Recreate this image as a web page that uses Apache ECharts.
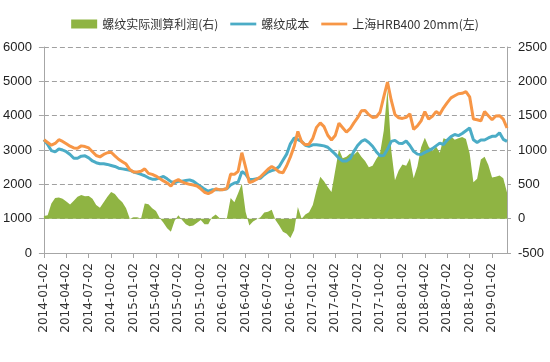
<!DOCTYPE html>
<html><head><meta charset="utf-8">
<script src="https://cdn.jsdelivr.net/npm/echarts@6/dist/echarts.min.js"></script>
<style>html,body{margin:0;padding:0;background:#fff}#c{width:550px;height:362px}</style>
</head><body><div id="c"></div>
<script>
// semi-monthly sample dates 2014-01-02 .. 2019-03-02
var categories = [];
(function(){
  for (var y = 2014; y <= 2019; y++) {
    for (var m = 1; m <= 12; m++) {
      if (y === 2019 && m > 3) break;
      var mm = (m < 10 ? '0' : '') + m;
      categories.push(y + '-' + mm + '-02');
      if (!(y === 2019 && m === 3)) categories.push(y + '-' + mm + '-17');
    }
  }
})();

var priceSH = [
3300,3220,3140,3190,3300,3250,3180,3110,3060,3050,
3120,3100,3060,2950,2840,2800,2870,2920,2935,2830,
2730,2660,2590,2430,2360,2360,2380,2450,2320,2290,
2240,2170,2100,2040,1950,2090,2140,2070,2030,2000,
1980,1950,1870,1770,1730,1780,1870,1845,1845,1880,
2300,2290,2380,2920,2500,2050,2090,2150,2220,2330,
2440,2520,2450,2360,2340,2540,2800,3100,3540,3240,
3150,3170,3340,3660,3790,3680,3430,3290,3420,3780,
3650,3520,3620,3790,3940,4140,4150,4030,3950,3960,
4100,4550,4980,4450,4030,3940,3920,3950,4050,3600,
3700,3850,4120,3900,3980,4120,4040,4230,4380,4520,
4580,4640,4650,4700,4550,3900,3880,3850,4120,4000,
3880,3990,4000,3900,3640
];

var costRebar = [
3300,3160,2980,2945,3030,3000,2950,2870,2760,2760,
2820,2830,2770,2680,2630,2600,2600,2580,2550,2520,
2470,2450,2430,2410,2360,2330,2290,2250,2190,2150,
2150,2190,2230,2160,2080,2050,2090,2090,2110,2130,
2090,2010,1940,1860,1800,1840,1845,1845,1850,1870,
1980,2040,2060,2370,2300,2140,2140,2160,2180,2280,
2360,2400,2430,2520,2700,2880,3180,3350,3300,3250,
3140,3110,3150,3150,3140,3120,3080,2980,2880,2760,
2680,2680,2750,2960,3130,3250,3300,3220,3110,2950,
2830,2840,3020,3250,3280,3200,3190,3260,3130,2960,
2880,2870,2930,2980,3040,3120,3200,3160,3290,3390,
3450,3420,3480,3560,3640,3300,3220,3290,3290,3350,
3400,3400,3500,3310,3250
];

var profitRebar = [
40,50,220,300,310,290,250,205,260,320,
345,326,330,290,200,160,240,320,390,360,
290,240,150,0,20,20,0,220,210,150,
110,10,-60,-140,-190,-30,50,-20,-80,-110,
-100,-60,-20,-80,-80,20,60,10,0,10,
300,240,370,510,100,-100,-40,-10,20,90,
100,130,-20,-100,-190,-220,-280,-170,170,0,
60,92,200,420,610,545,460,390,700,1010,
880,900,950,930,980,900,840,750,770,870,
950,1280,1880,1000,560,700,790,770,880,590,
760,1040,1180,1050,980,1050,960,1170,1150,1200,
1150,1170,1190,1160,950,530,580,860,900,780,
600,610,630,590,380
];

var leftTicks = {min: 0, max: 6000, interval: 1000};
var rightTicks = {min: -500, max: 2500, interval: 500};

var chart = echarts.init(document.getElementById('c'), null, {renderer: 'canvas'});
var fontFam = '"Noto Sans CJK SC", "Noto Sans", sans-serif';
var numFont = '"Liberation Sans", Arial, sans-serif';
var lineIcon = 'path://M0,0 L30,0 L30,3.2 L0,3.2 Z';
function plain(v) { return String(v); }
chart.setOption({
  animation: false,
  backgroundColor: '#fff',
  legend: {
    top: 13, left: 'center', itemGap: 12, itemWidth: 26, itemHeight: 9,
    textStyle: {fontFamily: fontFam, fontSize: 12, color: '#333'},
    data: [
      {name: '螺纹实际测算利润(右)', icon: 'rect'},
      {name: '螺纹成本', icon: lineIcon, itemStyle: {color: '#4bacc6'}},
      {name: '上海HRB400 20mm(左)', icon: lineIcon, itemStyle: {color: '#f79646'}}
    ]
  },
  grid: {left: 42, right: 43, top: 47, bottom: 109},
  xAxis: {
    type: 'category', data: categories, boundaryGap: false,
    axisLine: {lineStyle: {color: '#a6a6a6'}},
    axisTick: {interval: 5, length: 5, lineStyle: {color: '#a6a6a6'}},
    axisLabel: {interval: 5, rotate: 90, color: '#333', fontFamily: '"DejaVu Sans", sans-serif', fontSize: 12, margin: 10}
  },
  yAxis: [
    {type: 'value', min: leftTicks.min, max: leftTicks.max, interval: leftTicks.interval,
     axisLine: {show: true, lineStyle: {color: '#a6a6a6'}},
     axisTick: {show: true, length: 5, lineStyle: {color: '#a6a6a6'}},
     axisLabel: {color: '#222', fontFamily: numFont, fontSize: 13, margin: 12, formatter: plain},
     splitLine: {show: true, lineStyle: {color: '#a0a0a0', type: [5, 3]}}},
    {type: 'value', min: rightTicks.min, max: rightTicks.max, interval: rightTicks.interval,
     axisLine: {show: true, lineStyle: {color: '#a6a6a6'}},
     axisTick: {show: true, length: 4, lineStyle: {color: '#a6a6a6'}},
     axisLabel: {color: '#222', fontFamily: numFont, fontSize: 13, margin: 11, formatter: plain},
     splitLine: {show: false}}
  ],
  series: [
    {name: '螺纹实际测算利润(右)', type: 'line', yAxisIndex: 1, data: profitRebar,
     showSymbol: false, symbol: 'none', lineStyle: {width: 0}, itemStyle: {color: '#8fb443'},
     areaStyle: {color: '#8fb443', opacity: 1}},
    {name: '螺纹成本', type: 'line', yAxisIndex: 0, data: costRebar,
     showSymbol: false, symbol: 'none', lineStyle: {width: 3, color: '#4bacc6'}, itemStyle: {color: '#4bacc6'}},
    {name: '上海HRB400 20mm(左)', type: 'line', yAxisIndex: 0, data: priceSH,
     showSymbol: false, symbol: 'none', lineStyle: {width: 3, color: '#f79646'}, itemStyle: {color: '#f79646'}}
  ]
});
</script></body></html>
